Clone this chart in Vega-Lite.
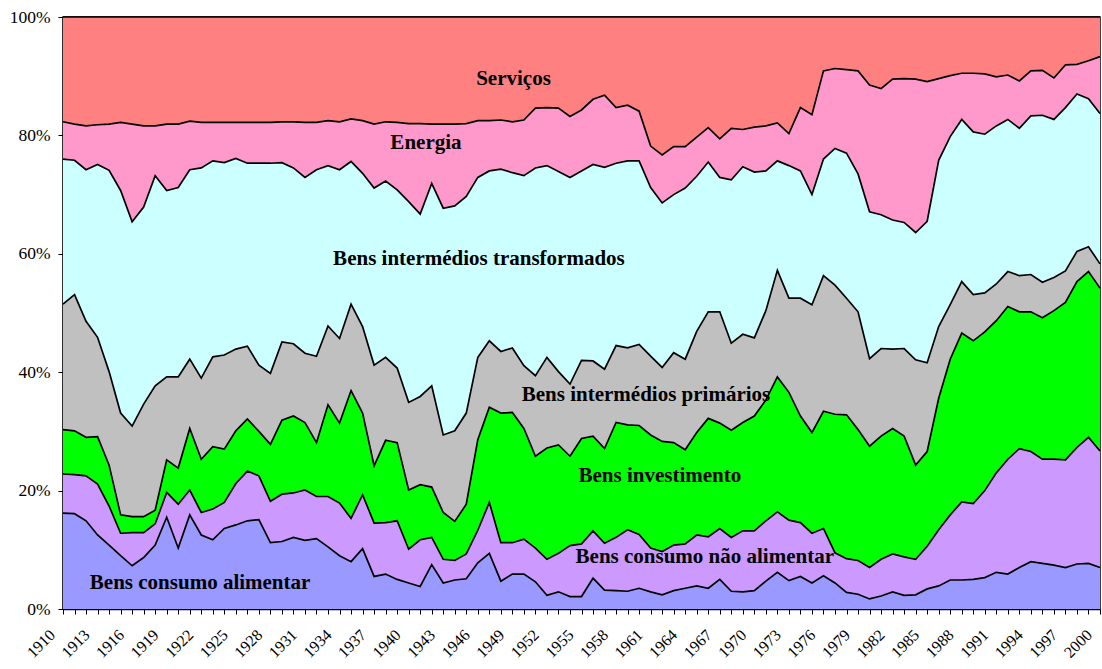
{
  "$schema": "https://vega.github.io/schema/vega-lite/v6.json",
  "width": 1037,
  "height": 592,
  "autosize": "none",
  "padding": {"left": 63, "top": 17, "right": 2, "bottom": 60},
  "background": "white",
  "config": {
    "font": "Liberation Serif",
    "view": {"stroke": "black", "strokeWidth": 1.5},
    "axis": {"domainColor": "black", "domainWidth": 1.5, "tickColor": "black", "tickWidth": 1, "grid": false, "labelColor": "black", "labelFont": "Liberation Serif"}
  },
  "layer": [
    {
      "data": {"values": [
        {"ano":1910,"a_alimentar":16.2,"b_nao_alimentar":6.6,"c_investimento":7.5,"d_primarios":21.2,"e_transformados":24.5,"f_energia":6.3,"g_servicos":17.7},
        {"ano":1911,"a_alimentar":16.1,"b_nao_alimentar":6.6,"c_investimento":7.4,"d_primarios":23.0,"e_transformados":22.7,"f_energia":6.1,"g_servicos":18.1},
        {"ano":1912,"a_alimentar":14.9,"b_nao_alimentar":7.6,"c_investimento":6.5,"d_primarios":19.6,"e_transformados":25.6,"f_energia":7.4,"g_servicos":18.4},
        {"ano":1913,"a_alimentar":12.5,"b_nao_alimentar":8.6,"c_investimento":8.0,"d_primarios":16.8,"e_transformados":29.2,"f_energia":6.7,"g_servicos":18.2},
        {"ano":1914,"a_alimentar":10.8,"b_nao_alimentar":6.6,"c_investimento":6.9,"d_primarios":15.8,"e_transformados":34.0,"f_energia":7.8,"g_servicos":18.1},
        {"ano":1915,"a_alimentar":9.0,"b_nao_alimentar":3.8,"c_investimento":3.1,"d_primarios":17.2,"e_transformados":37.6,"f_energia":11.5,"g_servicos":17.8},
        {"ano":1916,"a_alimentar":7.3,"b_nao_alimentar":5.6,"c_investimento":2.7,"d_primarios":15.3,"e_transformados":34.5,"f_energia":16.5,"g_servicos":18.1},
        {"ano":1917,"a_alimentar":8.7,"b_nao_alimentar":4.2,"c_investimento":2.7,"d_primarios":19.0,"e_transformados":33.3,"f_energia":13.7,"g_servicos":18.4},
        {"ano":1918,"a_alimentar":10.8,"b_nao_alimentar":3.6,"c_investimento":2.3,"d_primarios":21.0,"e_transformados":35.5,"f_energia":8.4,"g_servicos":18.4},
        {"ano":1919,"a_alimentar":15.5,"b_nao_alimentar":4.2,"c_investimento":5.5,"d_primarios":14.0,"e_transformados":31.5,"f_energia":11.2,"g_servicos":18.1},
        {"ano":1920,"a_alimentar":10.3,"b_nao_alimentar":7.4,"c_investimento":6.1,"d_primarios":15.4,"e_transformados":32.0,"f_energia":10.7,"g_servicos":18.1},
        {"ano":1921,"a_alimentar":15.9,"b_nao_alimentar":4.2,"c_investimento":10.4,"d_primarios":11.7,"e_transformados":32.0,"f_energia":8.2,"g_servicos":17.6},
        {"ano":1922,"a_alimentar":12.5,"b_nao_alimentar":3.8,"c_investimento":9.0,"d_primarios":13.7,"e_transformados":35.5,"f_energia":7.7,"g_servicos":17.8},
        {"ano":1923,"a_alimentar":11.7,"b_nao_alimentar":5.2,"c_investimento":10.5,"d_primarios":15.2,"e_transformados":33.1,"f_energia":6.5,"g_servicos":17.8},
        {"ano":1924,"a_alimentar":13.6,"b_nao_alimentar":4.4,"c_investimento":9.0,"d_primarios":15.9,"e_transformados":32.5,"f_energia":6.8,"g_servicos":17.8},
        {"ano":1925,"a_alimentar":14.2,"b_nao_alimentar":7.0,"c_investimento":8.9,"d_primarios":13.8,"e_transformados":32.2,"f_energia":6.1,"g_servicos":17.8},
        {"ano":1926,"a_alimentar":14.9,"b_nao_alimentar":8.4,"c_investimento":8.8,"d_primarios":12.3,"e_transformados":30.9,"f_energia":6.9,"g_servicos":17.8},
        {"ano":1927,"a_alimentar":15.1,"b_nao_alimentar":7.4,"c_investimento":7.5,"d_primarios":11.2,"e_transformados":34.1,"f_energia":6.9,"g_servicos":17.8},
        {"ano":1928,"a_alimentar":11.2,"b_nao_alimentar":7.0,"c_investimento":9.6,"d_primarios":12.0,"e_transformados":35.5,"f_energia":6.9,"g_servicos":17.8},
        {"ano":1929,"a_alimentar":11.4,"b_nao_alimentar":8.0,"c_investimento":12.5,"d_primarios":13.2,"e_transformados":30.3,"f_energia":6.9,"g_servicos":17.7},
        {"ano":1930,"a_alimentar":12.1,"b_nao_alimentar":7.5,"c_investimento":13.0,"d_primarios":12.2,"e_transformados":29.7,"f_energia":7.8,"g_servicos":17.7},
        {"ano":1931,"a_alimentar":11.6,"b_nao_alimentar":8.5,"c_investimento":11.4,"d_primarios":11.7,"e_transformados":29.7,"f_energia":9.3,"g_servicos":17.8},
        {"ano":1932,"a_alimentar":11.9,"b_nao_alimentar":7.1,"c_investimento":9.1,"d_primarios":14.6,"e_transformados":31.5,"f_energia":8.0,"g_servicos":17.8},
        {"ano":1933,"a_alimentar":10.5,"b_nao_alimentar":8.5,"c_investimento":15.5,"d_primarios":13.3,"e_transformados":27.1,"f_energia":7.6,"g_servicos":17.5},
        {"ano":1934,"a_alimentar":9.0,"b_nao_alimentar":8.9,"c_investimento":13.5,"d_primarios":14.3,"e_transformados":28.5,"f_energia":8.1,"g_servicos":17.7},
        {"ano":1935,"a_alimentar":8.0,"b_nao_alimentar":7.3,"c_investimento":21.6,"d_primarios":14.6,"e_transformados":24.1,"f_energia":7.2,"g_servicos":17.2},
        {"ano":1936,"a_alimentar":10.2,"b_nao_alimentar":9.1,"c_investimento":13.8,"d_primarios":14.6,"e_transformados":25.9,"f_energia":8.9,"g_servicos":17.5},
        {"ano":1937,"a_alimentar":5.5,"b_nao_alimentar":9.0,"c_investimento":9.7,"d_primarios":17.0,"e_transformados":29.9,"f_energia":10.8,"g_servicos":18.1},
        {"ano":1938,"a_alimentar":5.9,"b_nao_alimentar":8.7,"c_investimento":13.9,"d_primarios":14.0,"e_transformados":29.8,"f_energia":10.0,"g_servicos":17.7},
        {"ano":1939,"a_alimentar":5.0,"b_nao_alimentar":9.9,"c_investimento":13.2,"d_primarios":12.6,"e_transformados":30.1,"f_energia":11.4,"g_servicos":17.8},
        {"ano":1940,"a_alimentar":4.4,"b_nao_alimentar":5.7,"c_investimento":10.0,"d_primarios":14.8,"e_transformados":33.9,"f_energia":13.2,"g_servicos":18.0},
        {"ano":1941,"a_alimentar":3.8,"b_nao_alimentar":7.9,"c_investimento":9.3,"d_primarios":14.9,"e_transformados":30.8,"f_energia":15.3,"g_servicos":18.0},
        {"ano":1942,"a_alimentar":7.5,"b_nao_alimentar":4.6,"c_investimento":8.5,"d_primarios":17.1,"e_transformados":34.2,"f_energia":10.0,"g_servicos":18.1},
        {"ano":1943,"a_alimentar":4.4,"b_nao_alimentar":4.0,"c_investimento":7.9,"d_primarios":13.1,"e_transformados":38.3,"f_energia":14.2,"g_servicos":18.1},
        {"ano":1944,"a_alimentar":4.9,"b_nao_alimentar":3.3,"c_investimento":6.6,"d_primarios":15.3,"e_transformados":38.0,"f_energia":13.8,"g_servicos":18.1},
        {"ano":1945,"a_alimentar":5.1,"b_nao_alimentar":4.2,"c_investimento":8.4,"d_primarios":15.4,"e_transformados":36.6,"f_energia":12.3,"g_servicos":18.0},
        {"ano":1946,"a_alimentar":7.8,"b_nao_alimentar":5.5,"c_investimento":15.3,"d_primarios":13.9,"e_transformados":30.4,"f_energia":9.6,"g_servicos":17.5},
        {"ano":1947,"a_alimentar":9.4,"b_nao_alimentar":8.6,"c_investimento":16.1,"d_primarios":11.2,"e_transformados":28.7,"f_energia":8.5,"g_servicos":17.5},
        {"ano":1948,"a_alimentar":4.7,"b_nao_alimentar":6.5,"c_investimento":21.9,"d_primarios":10.4,"e_transformados":30.8,"f_energia":8.3,"g_servicos":17.4},
        {"ano":1949,"a_alimentar":5.9,"b_nao_alimentar":5.3,"c_investimento":22.0,"d_primarios":10.9,"e_transformados":29.6,"f_energia":8.6,"g_servicos":17.7},
        {"ano":1950,"a_alimentar":5.9,"b_nao_alimentar":5.9,"c_investimento":18.7,"d_primarios":10.6,"e_transformados":32.1,"f_energia":9.4,"g_servicos":17.4},
        {"ano":1951,"a_alimentar":4.6,"b_nao_alimentar":5.7,"c_investimento":15.5,"d_primarios":13.6,"e_transformados":35.1,"f_energia":10.1,"g_servicos":15.4},
        {"ano":1952,"a_alimentar":2.3,"b_nao_alimentar":6.1,"c_investimento":18.8,"d_primarios":15.3,"e_transformados":32.4,"f_energia":9.8,"g_servicos":15.3},
        {"ano":1953,"a_alimentar":2.9,"b_nao_alimentar":6.5,"c_investimento":18.3,"d_primarios":12.4,"e_transformados":33.8,"f_energia":10.7,"g_servicos":15.4},
        {"ano":1954,"a_alimentar":2.1,"b_nao_alimentar":8.6,"c_investimento":15.1,"d_primarios":12.2,"e_transformados":34.9,"f_energia":10.3,"g_servicos":16.8},
        {"ano":1955,"a_alimentar":2.1,"b_nao_alimentar":8.9,"c_investimento":17.8,"d_primarios":13.2,"e_transformados":32.0,"f_energia":10.3,"g_servicos":15.7},
        {"ano":1956,"a_alimentar":5.2,"b_nao_alimentar":8.0,"c_investimento":16.0,"d_primarios":12.7,"e_transformados":33.2,"f_energia":11.0,"g_servicos":13.9},
        {"ano":1957,"a_alimentar":3.2,"b_nao_alimentar":7.9,"c_investimento":16.0,"d_primarios":13.4,"e_transformados":34.1,"f_energia":12.2,"g_servicos":13.2},
        {"ano":1958,"a_alimentar":3.1,"b_nao_alimentar":9.0,"c_investimento":19.4,"d_primarios":13.0,"e_transformados":30.8,"f_energia":9.4,"g_servicos":15.3},
        {"ano":1959,"a_alimentar":3.0,"b_nao_alimentar":10.4,"c_investimento":17.7,"d_primarios":13.0,"e_transformados":31.6,"f_energia":9.4,"g_servicos":14.9},
        {"ano":1960,"a_alimentar":3.5,"b_nao_alimentar":9.1,"c_investimento":18.4,"d_primarios":13.7,"e_transformados":31.0,"f_energia":8.4,"g_servicos":15.9},
        {"ano":1961,"a_alimentar":2.9,"b_nao_alimentar":7.4,"c_investimento":19.1,"d_primarios":13.3,"e_transformados":28.5,"f_energia":7.0,"g_servicos":21.8},
        {"ano":1962,"a_alimentar":2.4,"b_nao_alimentar":7.3,"c_investimento":18.6,"d_primarios":12.5,"e_transformados":27.8,"f_energia":8.1,"g_servicos":23.3},
        {"ano":1963,"a_alimentar":3.1,"b_nao_alimentar":7.7,"c_investimento":17.3,"d_primarios":15.2,"e_transformados":26.7,"f_energia":8.1,"g_servicos":21.9},
        {"ano":1964,"a_alimentar":3.5,"b_nao_alimentar":7.5,"c_investimento":15.9,"d_primarios":15.3,"e_transformados":28.9,"f_energia":7.0,"g_servicos":21.9},
        {"ano":1965,"a_alimentar":3.9,"b_nao_alimentar":8.6,"c_investimento":17.3,"d_primarios":17.1,"e_transformados":26.2,"f_energia":6.6,"g_servicos":20.3},
        {"ano":1966,"a_alimentar":3.5,"b_nao_alimentar":8.7,"c_investimento":20.0,"d_primarios":18.0,"e_transformados":25.3,"f_energia":5.8,"g_servicos":18.7},
        {"ano":1967,"a_alimentar":5.0,"b_nao_alimentar":8.6,"c_investimento":17.8,"d_primarios":18.8,"e_transformados":22.7,"f_energia":6.5,"g_servicos":20.6},
        {"ano":1968,"a_alimentar":3.0,"b_nao_alimentar":9.1,"c_investimento":18.1,"d_primarios":14.7,"e_transformados":27.6,"f_energia":8.7,"g_servicos":18.8},
        {"ano":1969,"a_alimentar":2.9,"b_nao_alimentar":10.3,"c_investimento":18.3,"d_primarios":14.9,"e_transformados":28.3,"f_energia":6.3,"g_servicos":19.0},
        {"ano":1970,"a_alimentar":3.1,"b_nao_alimentar":10.1,"c_investimento":19.4,"d_primarios":13.2,"e_transformados":28.0,"f_energia":7.6,"g_servicos":18.6},
        {"ano":1971,"a_alimentar":4.7,"b_nao_alimentar":10.2,"c_investimento":20.4,"d_primarios":15.1,"e_transformados":23.6,"f_energia":7.6,"g_servicos":18.4},
        {"ano":1972,"a_alimentar":6.2,"b_nao_alimentar":10.2,"c_investimento":22.8,"d_primarios":18.0,"e_transformados":18.5,"f_energia":6.4,"g_servicos":17.9},
        {"ano":1973,"a_alimentar":4.8,"b_nao_alimentar":10.2,"c_investimento":21.6,"d_primarios":15.9,"e_transformados":22.4,"f_energia":5.4,"g_servicos":19.7},
        {"ano":1974,"a_alimentar":5.5,"b_nao_alimentar":9.1,"c_investimento":18.0,"d_primarios":19.9,"e_transformados":21.5,"f_energia":10.7,"g_servicos":15.3},
        {"ano":1975,"a_alimentar":4.4,"b_nao_alimentar":8.4,"c_investimento":17.0,"d_primarios":21.6,"e_transformados":18.6,"f_energia":13.5,"g_servicos":16.5},
        {"ano":1976,"a_alimentar":5.6,"b_nao_alimentar":8.0,"c_investimento":19.8,"d_primarios":22.9,"e_transformados":19.7,"f_energia":14.9,"g_servicos":9.1},
        {"ano":1977,"a_alimentar":4.4,"b_nao_alimentar":5.1,"c_investimento":23.4,"d_primarios":21.8,"e_transformados":23.1,"f_energia":13.5,"g_servicos":8.7},
        {"ano":1978,"a_alimentar":2.8,"b_nao_alimentar":5.7,"c_investimento":24.3,"d_primarios":19.7,"e_transformados":24.5,"f_energia":14.1,"g_servicos":8.9},
        {"ano":1979,"a_alimentar":2.5,"b_nao_alimentar":5.7,"c_investimento":22.1,"d_primarios":19.9,"e_transformados":23.3,"f_energia":17.4,"g_servicos":9.1},
        {"ano":1980,"a_alimentar":1.7,"b_nao_alimentar":5.3,"c_investimento":20.5,"d_primarios":14.8,"e_transformados":24.8,"f_energia":21.4,"g_servicos":11.5},
        {"ano":1981,"a_alimentar":2.2,"b_nao_alimentar":6.2,"c_investimento":20.8,"d_primarios":14.8,"e_transformados":22.6,"f_energia":21.3,"g_servicos":12.1},
        {"ano":1982,"a_alimentar":2.9,"b_nao_alimentar":6.4,"c_investimento":21.2,"d_primarios":13.4,"e_transformados":21.8,"f_energia":23.8,"g_servicos":10.5},
        {"ano":1983,"a_alimentar":2.3,"b_nao_alimentar":6.5,"c_investimento":20.4,"d_primarios":14.8,"e_transformados":21.3,"f_energia":24.3,"g_servicos":10.4},
        {"ano":1984,"a_alimentar":2.4,"b_nao_alimentar":6.0,"c_investimento":15.9,"d_primarios":17.8,"e_transformados":21.5,"f_energia":25.9,"g_servicos":10.5},
        {"ano":1985,"a_alimentar":3.4,"b_nao_alimentar":7.2,"c_investimento":16.0,"d_primarios":15.0,"e_transformados":23.9,"f_energia":23.6,"g_servicos":10.9},
        {"ano":1986,"a_alimentar":3.9,"b_nao_alimentar":9.5,"c_investimento":22.2,"d_primarios":12.1,"e_transformados":28.1,"f_energia":13.8,"g_servicos":10.4},
        {"ano":1987,"a_alimentar":4.9,"b_nao_alimentar":11.0,"c_investimento":26.3,"d_primarios":9.2,"e_transformados":28.4,"f_energia":10.3,"g_servicos":9.9},
        {"ano":1988,"a_alimentar":4.9,"b_nao_alimentar":13.2,"c_investimento":28.5,"d_primarios":8.7,"e_transformados":27.4,"f_energia":7.8,"g_servicos":9.5},
        {"ano":1989,"a_alimentar":5.0,"b_nao_alimentar":12.8,"c_investimento":27.5,"d_primarios":7.8,"e_transformados":27.5,"f_energia":9.9,"g_servicos":9.5},
        {"ano":1990,"a_alimentar":5.3,"b_nao_alimentar":14.7,"c_investimento":26.8,"d_primarios":6.6,"e_transformados":26.8,"f_energia":10.2,"g_servicos":9.6},
        {"ano":1991,"a_alimentar":6.2,"b_nao_alimentar":16.8,"c_investimento":25.7,"d_primarios":6.2,"e_transformados":26.7,"f_energia":8.3,"g_servicos":10.1},
        {"ano":1992,"a_alimentar":5.9,"b_nao_alimentar":19.4,"c_investimento":25.8,"d_primarios":5.9,"e_transformados":25.7,"f_energia":7.5,"g_servicos":9.8},
        {"ano":1993,"a_alimentar":7.0,"b_nao_alimentar":20.1,"c_investimento":23.1,"d_primarios":6.1,"e_transformados":24.9,"f_energia":8.0,"g_servicos":10.8},
        {"ano":1994,"a_alimentar":8.0,"b_nao_alimentar":18.6,"c_investimento":23.6,"d_primarios":6.3,"e_transformados":26.8,"f_energia":7.6,"g_servicos":9.1},
        {"ano":1995,"a_alimentar":7.7,"b_nao_alimentar":17.6,"c_investimento":23.9,"d_primarios":6.0,"e_transformados":28.2,"f_energia":7.6,"g_servicos":9.0},
        {"ano":1996,"a_alimentar":7.4,"b_nao_alimentar":17.9,"c_investimento":25.1,"d_primarios":5.6,"e_transformados":26.7,"f_energia":7.0,"g_servicos":10.3},
        {"ano":1997,"a_alimentar":7.0,"b_nao_alimentar":18.2,"c_investimento":26.6,"d_primarios":5.3,"e_transformados":27.6,"f_energia":7.2,"g_servicos":8.1},
        {"ano":1998,"a_alimentar":7.6,"b_nao_alimentar":19.7,"c_investimento":28.0,"d_primarios":5.1,"e_transformados":26.6,"f_energia":5.0,"g_servicos":8.0},
        {"ano":1999,"a_alimentar":7.7,"b_nao_alimentar":21.3,"c_investimento":28.0,"d_primarios":4.2,"e_transformados":25.0,"f_energia":6.4,"g_servicos":7.4},
        {"ano":2000,"a_alimentar":7.0,"b_nao_alimentar":19.7,"c_investimento":27.5,"d_primarios":4.1,"e_transformados":25.4,"f_energia":9.6,"g_servicos":6.7}
      ]},
      "transform": [
        {"fold": ["a_alimentar","b_nao_alimentar","c_investimento","d_primarios","e_transformados","f_energia","g_servicos"], "as": ["serie","valor"]},
        {"stack": "valor", "groupby": ["ano"], "sort": [{"field": "serie", "order": "ascending"}], "as": ["base","topo"]}
      ],
      "layer": [
        {
          "mark": {"type": "area", "interpolate": "linear", "opacity": 1},
          "encoding": {
            "x": {
              "field": "ano", "type": "quantitative",
              "scale": {"domain": [1910, 2000], "nice": false, "zero": false},
              "axis": {
                "title": null,
                "values": [1910,1911,1912,1913,1914,1915,1916,1917,1918,1919,1920,1921,1922,1923,1924,1925,1926,1927,1928,1929,1930,1931,1932,1933,1934,1935,1936,1937,1938,1939,1940,1941,1942,1943,1944,1945,1946,1947,1948,1949,1950,1951,1952,1953,1954,1955,1956,1957,1958,1959,1960,1961,1962,1963,1964,1965,1966,1967,1968,1969,1970,1971,1972,1973,1974,1975,1976,1977,1978,1979,1980,1981,1982,1983,1984,1985,1986,1987,1988,1989,1990,1991,1992,1993,1994,1995,1996,1997,1998,1999,2000],
                "tickCount": 200,
                "labelExpr": "(datum.value - 1910) % 3 === 0 ? '' + datum.value : ''",
                "labelAngle": -45,
                "labelAlign": "right",
                "labelBaseline": "middle",
                "labelFontSize": 16,
                "labelOffset": -11,
                "labelPadding": 18,
                "labelOverlap": false,
                "labelFlush": false,
                "labelBound": false,
                "tickSize": 5
              }
            },
            "y": {
              "field": "topo", "type": "quantitative",
              "scale": {"domain": [0, 100], "nice": false},
              "axis": {
                "title": null,
                "values": [0, 20, 40, 60, 80, 100],
                "tickCount": 6,
                "labelExpr": "datum.value + '%'",
                "labelFontSize": 17.5,
                "labelPadding": 8,
                "tickSize": 5
              }
            },
            "y2": {"field": "base"},
            "color": {
              "field": "serie", "type": "nominal", "legend": null,
              "scale": {
                "domain": ["a_alimentar","b_nao_alimentar","c_investimento","d_primarios","e_transformados","f_energia","g_servicos"],
                "range": ["#9999FF","#CC99FF","#00FF00","#C0C0C0","#CCFFFF","#FF99CC","#FF8080"]
              }
            }
          }
        },
        {
          "mark": {"type": "line", "interpolate": "linear", "color": "black", "strokeWidth": 1.7},
          "encoding": {
            "x": {"field": "ano", "type": "quantitative"},
            "y": {"field": "topo", "type": "quantitative"},
            "detail": {"field": "serie", "type": "nominal"}
          }
        }
      ]
    },
    {
      "data": {"values": [
        {"rotulo": "Serviços", "ano": 1949.1, "pct": 89.5},
        {"rotulo": "Energia", "ano": 1941.5, "pct": 78.7},
        {"rotulo": "Bens intermédios transformados", "ano": 1946.1, "pct": 59.1},
        {"rotulo": "Bens intermédios primários", "ano": 1960.6, "pct": 36.1},
        {"rotulo": "Bens investimento", "ano": 1961.8, "pct": 22.5},
        {"rotulo": "Bens consumo não alimentar", "ano": 1965.7, "pct": 8.8},
        {"rotulo": "Bens consumo alimentar", "ano": 1921.9, "pct": 4.4}
      ]},
      "mark": {"type": "text", "font": "Liberation Serif", "fontWeight": "bold", "fontSize": 21, "color": "black", "align": "center", "baseline": "middle"},
      "encoding": {
        "x": {"field": "ano", "type": "quantitative"},
        "y": {"field": "pct", "type": "quantitative"},
        "text": {"field": "rotulo"}
      }
    }
  ]
}
